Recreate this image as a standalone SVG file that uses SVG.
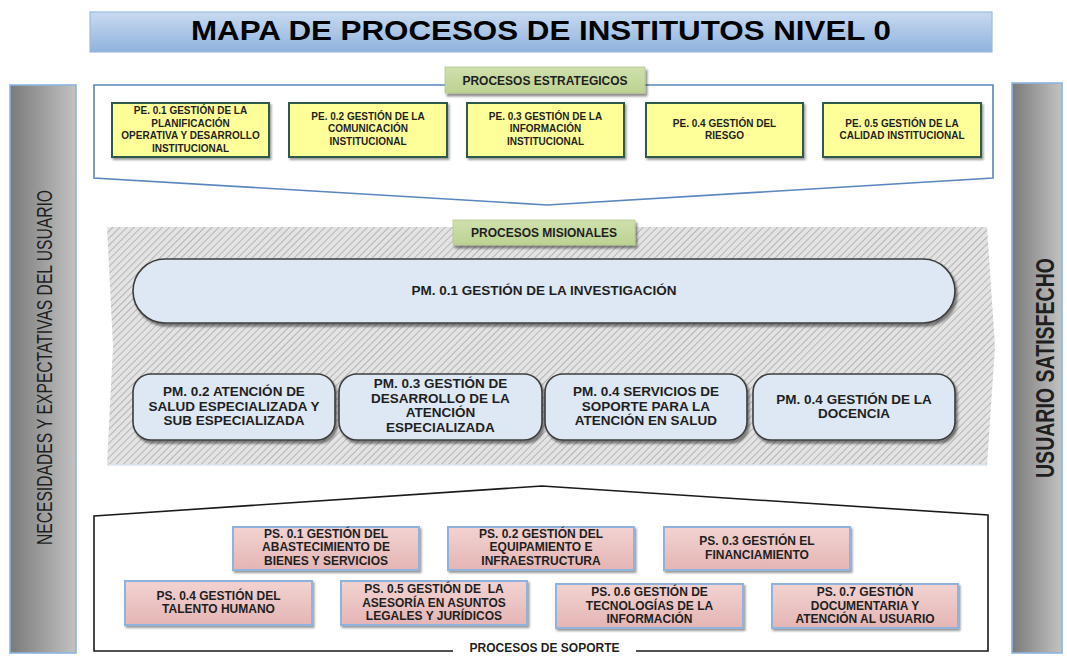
<svg xmlns="http://www.w3.org/2000/svg" width="1067" height="660" viewBox="0 0 1067 660">
<defs>
<linearGradient id="gTitle" x1="0" y1="0" x2="0" y2="1"><stop offset="0" stop-color="#c9daf0"/><stop offset="1" stop-color="#8fb2de"/></linearGradient>
<linearGradient id="gBar" x1="0" y1="0" x2="1" y2="0"><stop offset="0" stop-color="#7a7a7a"/><stop offset="1" stop-color="#c2c2c2"/></linearGradient>
<linearGradient id="gGreen" x1="0" y1="0" x2="0" y2="1"><stop offset="0" stop-color="#d0e0ad"/><stop offset="1" stop-color="#bcd292"/></linearGradient>
<linearGradient id="gPink" x1="0" y1="0" x2="0" y2="1"><stop offset="0" stop-color="#f2d3d2"/><stop offset="1" stop-color="#e4b5b4"/></linearGradient>
<pattern id="hatch" patternUnits="userSpaceOnUse" width="5" height="5" patternTransform="rotate(45)">
<rect width="5" height="5" fill="#e3e3e3"/>
<line x1="0" y1="0" x2="0" y2="5" stroke="#a9a9a9" stroke-width="1.6"/>
</pattern>
<filter id="sh" x="-10%" y="-20%" width="130%" height="160%"><feDropShadow dx="2" dy="3" stdDeviation="1" flood-color="#000" flood-opacity="0.45"/></filter>
<filter id="shs" x="-10%" y="-20%" width="130%" height="160%"><feDropShadow dx="1.5" dy="2" stdDeviation="0.8" flood-color="#000" flood-opacity="0.4"/></filter>
</defs>
<style>
text{font-family:"Liberation Sans",Arial,sans-serif;fill:#1f1f1f;text-anchor:middle}
.b{font-weight:bold}
.pe{font-size:10px;font-weight:bold}
.pm{font-size:13.5px;font-weight:bold}
.ps{font-size:12px;font-weight:bold}
.lab{font-size:12px;font-weight:bold}
.peBox{fill:#ffff99;stroke:#2f5a4a;stroke-width:2}
.pmBox{fill:#dde8f4;stroke:#3c3c3c;stroke-width:1.6}
.psBox{fill:url(#gPink);stroke:#8fb3dc;stroke-width:2}
.green{fill:url(#gGreen);stroke:#b5c98f;stroke-width:0.8}
.bar{fill:url(#gBar);stroke:#8eb4e3;stroke-width:1.6}
</style>
<rect width="1067" height="660" fill="#ffffff"/>

<g id="title">
<rect x="90" y="12" width="902" height="40" fill="url(#gTitle)" stroke="#9dbbe0" stroke-width="1.2"/>
<text x="541" y="40" class="b" font-size="27" textLength="700" lengthAdjust="spacingAndGlyphs" style="fill:#000">MAPA DE PROCESOS DE INSTITUTOS NIVEL 0</text>
</g>

<g id="bar-left">
<rect class="bar" x="10" y="85" width="66" height="568"/>
<text transform="translate(52,367.5) rotate(-90)" font-size="22" textLength="355" lengthAdjust="spacingAndGlyphs">NECESIDADES Y EXPECTATIVAS DEL USUARIO</text>
</g>
<g id="bar-right">
<rect class="bar" x="1012" y="83" width="50" height="570"/>
<text transform="translate(1054,368) rotate(-90)" class="b" font-size="25" textLength="220" lengthAdjust="spacingAndGlyphs">USUARIO SATISFECHO</text>
</g>

<g id="estrategicos">
<polygon points="94,85 993,85 993,178 547,205 94,178" fill="#ffffff" stroke="#5b86c0" stroke-width="1.6"/>
<rect class="green" x="445" y="67" width="200" height="26" filter="url(#sh)"/>
<text x="545" y="84.5" class="lab">PROCESOS ESTRATEGICOS</text>
</g>
<g id="pe01">
<rect class="peBox" x="112" y="103" width="157" height="54" filter="url(#shs)"/>
<text class="pe" x="190.5" y="114">PE. 0.1 GESTIÓN DE LA</text>
<text class="pe" x="190.5" y="126.5">PLANIFICACIÓN</text>
<text class="pe" x="190.5" y="139">OPERATIVA Y DESARROLLO</text>
<text class="pe" x="190.5" y="151.5">INSTITUCIONAL</text>
</g>
<g id="pe02">
<rect class="peBox" x="289" y="103" width="158" height="54" filter="url(#shs)"/>
<text class="pe" x="368" y="119.5">PE. 0.2 GESTIÓN DE LA</text>
<text class="pe" x="368" y="132">COMUNICACIÓN</text>
<text class="pe" x="368" y="144.5">INSTITUCIONAL</text>
</g>
<g id="pe03">
<rect class="peBox" x="467" y="103" width="157" height="54" filter="url(#shs)"/>
<text class="pe" x="545.5" y="119.5">PE. 0.3 GESTIÓN DE LA</text>
<text class="pe" x="545.5" y="132">INFORMACIÓN</text>
<text class="pe" x="545.5" y="144.5">INSTITUCIONAL</text>
</g>
<g id="pe04">
<rect class="peBox" x="646" y="103" width="157" height="54" filter="url(#shs)"/>
<text class="pe" x="724.5" y="126.5">PE. 0.4 GESTIÓN DEL</text>
<text class="pe" x="724.5" y="139">RIESGO</text>
</g>
<g id="pe05">
<rect class="peBox" x="823" y="103" width="158" height="54" filter="url(#shs)"/>
<text class="pe" x="902" y="126.5">PE. 0.5 GESTIÓN DE LA</text>
<text class="pe" x="902" y="139">CALIDAD INSTITUCIONAL</text>
</g>

<g id="misionales">
<polygon points="107,227 987,227 995,346 987,465 107,465 113,346" fill="url(#hatch)"/>
<line x1="107" y1="465" x2="987" y2="465" stroke="#dbe6f3" stroke-width="1.5"/>
<rect class="green" x="453" y="220" width="182" height="25" filter="url(#sh)"/>
<text x="544" y="237" class="lab">PROCESOS MISIONALES</text>
</g>
<g id="pm01">
<rect class="pmBox" x="133" y="259" width="822" height="64" rx="32" ry="32" filter="url(#sh)"/>
<text class="pm" x="544" y="295">PM. 0.1 GESTIÓN DE LA INVESTIGACIÓN</text>
</g>
<g id="pm02">
<rect class="pmBox" x="133" y="374" width="202" height="66" rx="18" ry="18" filter="url(#sh)"/>
<text class="pm" x="234" y="396">PM. 0.2 ATENCIÓN DE</text>
<text class="pm" x="234" y="410.5">SALUD ESPECIALIZADA Y</text>
<text class="pm" x="234" y="425">SUB ESPECIALIZADA</text>
</g>
<g id="pm03">
<rect class="pmBox" x="339" y="374" width="203" height="66" rx="18" ry="18" filter="url(#sh)"/>
<text class="pm" x="440.5" y="388">PM. 0.3 GESTIÓN DE</text>
<text class="pm" x="440.5" y="402.5">DESARROLLO DE LA</text>
<text class="pm" x="440.5" y="417">ATENCIÓN</text>
<text class="pm" x="440.5" y="431.5">ESPECIALIZADA</text>
</g>
<g id="pm04a">
<rect class="pmBox" x="545" y="374" width="202" height="66" rx="18" ry="18" filter="url(#sh)"/>
<text class="pm" x="646" y="396">PM. 0.4 SERVICIOS DE</text>
<text class="pm" x="646" y="410.5">SOPORTE PARA LA</text>
<text class="pm" x="646" y="425">ATENCIÓN EN SALUD</text>
</g>
<g id="pm04b">
<rect class="pmBox" x="753" y="374" width="202" height="66" rx="18" ry="18" filter="url(#sh)"/>
<text class="pm" x="854" y="404">PM. 0.4 GESTIÓN DE LA</text>
<text class="pm" x="854" y="418">DOCENCIA</text>
</g>

<g id="soporte">
<polygon points="94,516 542,486 988,515 988,651 94,651" fill="#ffffff" stroke="#1a1a1a" stroke-width="1.6"/>
<rect x="453" y="637" width="183" height="23" fill="#ffffff"/>
<text x="544.5" y="652" class="lab">PROCESOS DE SOPORTE</text>
</g>
<g id="ps01">
<rect class="psBox" x="233" y="527" width="186" height="43" filter="url(#shs)"/>
<text class="ps" x="326" y="537.5">PS. 0.1 GESTIÓN DEL</text>
<text class="ps" x="326" y="551">ABASTECIMIENTO DE</text>
<text class="ps" x="326" y="564.5">BIENES Y SERVICIOS</text>
</g>
<g id="ps02">
<rect class="psBox" x="448" y="527" width="186" height="43" filter="url(#shs)"/>
<text class="ps" x="541" y="537.5">PS. 0.2 GESTIÓN DEL</text>
<text class="ps" x="541" y="551">EQUIPAMIENTO E</text>
<text class="ps" x="541" y="564.5">INFRAESTRUCTURA</text>
</g>
<g id="ps03">
<rect class="psBox" x="664" y="527" width="186" height="43" filter="url(#shs)"/>
<text class="ps" x="757" y="544.5">PS. 0.3 GESTIÓN EL</text>
<text class="ps" x="757" y="558.5">FINANCIAMIENTO</text>
</g>
<g id="ps04">
<rect class="psBox" x="125" y="581" width="187" height="44" filter="url(#shs)"/>
<text class="ps" x="218.5" y="599.5">PS. 0.4 GESTIÓN DEL</text>
<text class="ps" x="218.5" y="612.5">TALENTO HUMANO</text>
</g>
<g id="ps05">
<rect class="psBox" x="341" y="581" width="186" height="44" filter="url(#shs)"/>
<text class="ps" x="434" y="592.5" xml:space="preserve">PS. 0.5 GESTIÓN DE  LA</text>
<text class="ps" x="434" y="606.5">ASESORÍA EN ASUNTOS</text>
<text class="ps" x="434" y="619.5">LEGALES Y JURÍDICOS</text>
</g>
<g id="ps06">
<rect class="psBox" x="556" y="584" width="187" height="44" filter="url(#shs)"/>
<text class="ps" x="649.5" y="596">PS. 0.6 GESTIÓN DE</text>
<text class="ps" x="649.5" y="610">TECNOLOGÍAS DE LA</text>
<text class="ps" x="649.5" y="622.5">INFORMACIÓN</text>
</g>
<g id="ps07">
<rect class="psBox" x="772" y="584" width="186" height="44" filter="url(#shs)"/>
<text class="ps" x="865" y="596">PS. 0.7 GESTIÓN</text>
<text class="ps" x="865" y="610">DOCUMENTARIA Y</text>
<text class="ps" x="865" y="622.5">ATENCIÓN AL USUARIO</text>
</g>
<g id="connectors"/>
</svg>
